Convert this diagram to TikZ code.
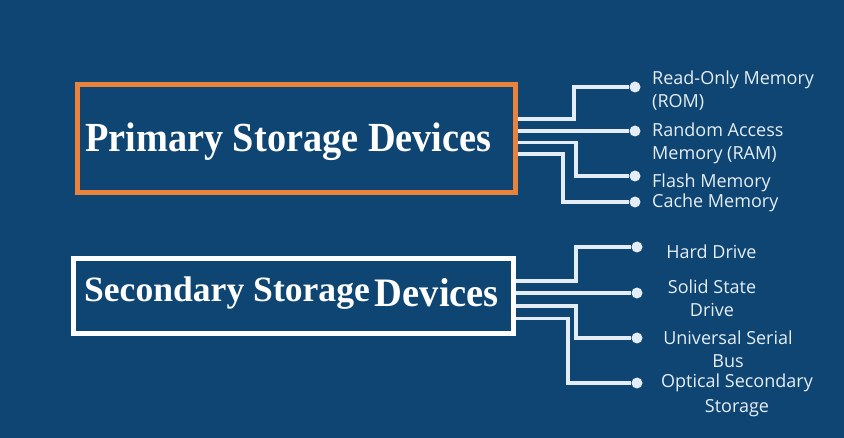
\documentclass[tikz,border=0pt]{standalone}
\usepackage{fontspec}
\setmainfont{Liberation Serif}
\newfontfamily\lblfont{Open Sans}
\definecolor{bg}{RGB}{14,69,114}
\definecolor{org}{RGB}{233,130,58}
\definecolor{wire}{RGB}{228,237,245}
\definecolor{lbl}{RGB}{230,238,245}
\begin{document}
\begin{tikzpicture}[x=1pt,y=-1pt,
  box/.style={draw, line width=5pt, fill=bg, inner sep=0pt, text=white, font=\bfseries},
  dot/.style={circle, fill=wire, inner sep=0pt, minimum size=11pt},
  conn/.style={draw=wire, line width=3.4pt},
  lbl/.style={text=lbl, font=\lblfont\fontsize{18}{23}\selectfont, inner sep=0pt}]
\fill[bg] (0,0) rectangle (844,438);
\useasboundingbox (0,0) rectangle (844,438);
% boxes
\node[box, draw=org, minimum width=437.5pt, minimum height=108pt] (prim) at (296.25,139)
  {\raisebox{-12.5pt}[0pt][0pt]{\scalebox{1}[1.08]{\fontsize{38.3}{38}\selectfont Primary Storage Devices}}\hspace*{16pt}};
\node[box, draw=white, minimum width=440pt, minimum height=75pt] (sec) at (293.5,296.5)
  {\raisebox{-5.2pt}[0pt][0pt]{\fontsize{35.6}{36}\selectfont Secondary Storage}\hspace{5pt}\raisebox{-10pt}[0pt][0pt]{\scalebox{1}[1.05]{\fontsize{38.5}{38}\selectfont Devices}}\hspace*{4pt}};
% dots
\node[dot] (p1) at (635,87) {};
\node[dot] (p2) at (635,131) {};
\node[dot] (p3) at (635,176) {};
\node[dot] (p4) at (635,202) {};
\node[dot] (s1) at (637,247) {};
\node[dot] (s2) at (637,293) {};
\node[dot] (s3) at (637,338) {};
\node[dot] (s4) at (637,383) {};
% connectors
\draw[conn] (prim.east |- 0,119) -- (574,119) |- (p1);
\draw[conn] (prim.east |- 0,131) -- (p2);
\draw[conn] (prim.east |- 0,142.5) -- (576,142.5) |- (p3);
\draw[conn] (prim.east |- 0,154) -- (563,154) |- (p4);
\draw[conn] (sec.east |- 0,281) -- (576,281) |- (s1);
\draw[conn] (sec.east |- 0,293) -- (s2);
\draw[conn] (sec.east |- 0,306) -- (576,306) |- (s3);
\draw[conn] (sec.east |- 0,318.5) -- (568,318.5) |- (s4);
% labels (base anchor = baseline of last line)
\node[lbl, anchor=base west, align=left] (l1) at (652,108) {Read-Only Memory\\(ROM)};
\node[lbl, anchor=base west, align=left] (l2) at (652,160) {Random Access\\Memory (RAM)};
\node[lbl, anchor=base west] (l3) at (652,188) {Flash Memory};
\node[lbl, anchor=base west] (l4) at (652,208) {Cache Memory};
\node[lbl, anchor=base] (m1) at (711.5,259) {Hard Drive};
\node[lbl, anchor=base, align=center] (m2) at (712,317) {Solid State\\Drive};
\node[lbl, anchor=base, align=center] (m3) at (728,368) {Universal Serial\\Bus};
\node[lbl, anchor=base, align=center, font=\lblfont\fontsize{18}{25}\selectfont] (m4) at (737,413) {Optical Secondary\\Storage};
\end{tikzpicture}
\end{document}
